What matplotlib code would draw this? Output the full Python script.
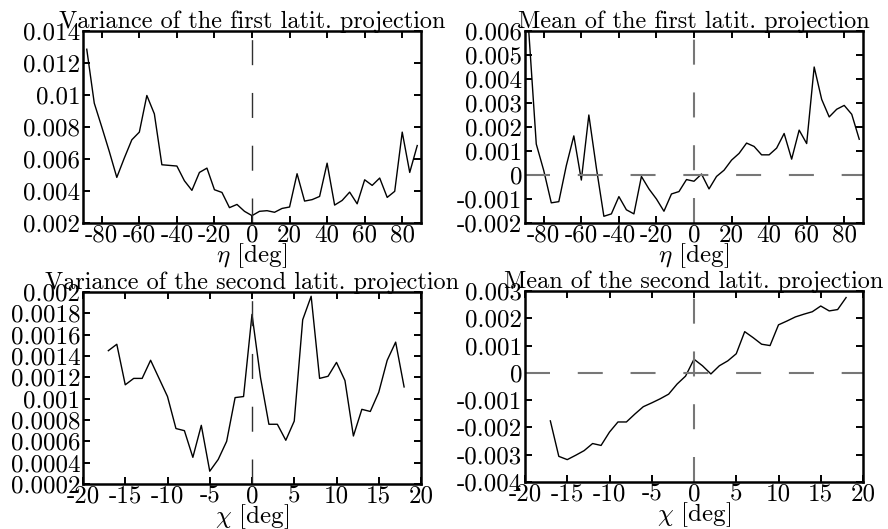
import matplotlib
matplotlib.use("Agg")
import matplotlib.pyplot as plt
from matplotlib.ticker import FuncFormatter, MultipleLocator
import numpy as np

plt.rcParams['font.family'] = ['cmr10', 'DejaVu Serif']
plt.rcParams['mathtext.fontset'] = 'cm'
plt.rcParams['axes.unicode_minus'] = False
plt.rcParams['font.size'] = 18
plt.rcParams['lines.scale_dashes'] = False

# ---- data ----
eta = np.arange(-88, 89, 4)
var_first = [0.01286, 0.00949, 0.0080, 0.00647, 0.00485, 0.00606, 0.0072, 0.00768,
             0.00997, 0.00882, 0.00564, 0.0056, 0.00556, 0.00464, 0.00404, 0.00516,
             0.00543, 0.00408, 0.00391, 0.00296, 0.00316, 0.00273, 0.00246, 0.00273,
             0.00277, 0.00267, 0.00291, 0.0030, 0.00508, 0.00337, 0.00346, 0.00366,
             0.00574, 0.00312, 0.00341, 0.00393, 0.0032, 0.0047, 0.00435, 0.00481,
             0.0036, 0.00398, 0.00768, 0.00516, 0.00684]
mean_first = [0.0060, 0.00129, 0.00018, -0.00116, -0.00111, 0.00039, 0.00163, -0.00021,
              0.0025, 0.0003, -0.00172, -0.00162, -0.0009, -0.00145, -0.00162, -0.00006,
              -0.00058, -0.0010, -0.00151, -0.00079, -0.00069, -0.00019, -0.00026, 0.00004,
              -0.00058, -0.00006, 0.0002, 0.00062, 0.0009, 0.00133, 0.00119, 0.00084,
              0.00084, 0.00112, 0.00173, 0.00066, 0.00187, 0.00131, 0.0045, 0.00315,
              0.00242, 0.00274, 0.0029, 0.00253, 0.00149]

chi = np.arange(-17, 19, 1)
var_second = [0.00145, 0.00151, 0.00113, 0.00119, 0.00119, 0.00136, 0.00119, 0.00102,
              0.00072, 0.0007, 0.00045, 0.00075, 0.00032, 0.00043, 0.0006, 0.00101,
              0.00102, 0.00179, 0.0012, 0.00076, 0.00076, 0.00061, 0.00079, 0.00174,
              0.00196, 0.00119, 0.00121, 0.00134, 0.00117, 0.00065, 0.0009, 0.00088,
              0.00106, 0.00136, 0.00153, 0.00111]
mean_second = [-0.00176, -0.00306, -0.00318, -0.00302, -0.00285, -0.00259, -0.00266, -0.00217,
               -0.0018, -0.0018, -0.00151, -0.00124, -0.0011, -0.00095, -0.00078, -0.00041,
               -0.00012, 0.0005, 0.00026, -0.00004, 0.00026, 0.00044, 0.0007, 0.00151,
               0.00129, 0.00105, 0.0010, 0.00176, 0.0019, 0.00205, 0.00215, 0.00224,
               0.00245, 0.00227, 0.00232, 0.00276]

titles = ["Variance of the first latit. projection", "Mean of the first latit. projection",
          "Variance of the second latit. projection", "Mean of the second latit. projection"]

fig = plt.figure(figsize=(8.88, 5.29), dpi=100)
W, H = 888, 529

def make_ax(x0, x1, y0, y1):
    return fig.add_axes([x0 / W, 1 - y1 / H, (x1 - x0) / W, (y1 - y0) / H])

fmt = FuncFormatter(lambda v, p: "%g" % round(v, 6))
dash = (0, (18, 20))
TITLE_SIZE = 17.5

def style(ax):
    for s in ax.spines.values():
        s.set_linewidth(1.8)
    ax.tick_params(direction='in', length=5, width=1.4, top=True, right=True, pad=2)
    ax.tick_params(axis='x', pad=1)
    ax.yaxis.set_major_formatter(fmt)

# top-left
ax1 = make_ax(83, 421, 31, 223)
ax1.plot(eta, var_first, color='k', lw=1.0)
ax1.plot([0, 0], [0.002, 0.014], color='#303030', lw=1.0, linestyle=dash)
ax1.set_xlim(-90, 90); ax1.set_ylim(0.002, 0.014)
ax1.xaxis.set_major_locator(MultipleLocator(20)); ax1.yaxis.set_major_locator(MultipleLocator(0.002))
ax1.set_xlabel(r"$\eta$ [deg]", labelpad=-4)
ax1.set_title(titles[0], pad=2, fontsize=TITLE_SIZE)
style(ax1)

# top-right
ax2 = make_ax(525, 863, 31, 223)
ax2.plot(eta, mean_first, color='k', lw=1.0)
ax2.plot([0, 0], [-0.002, 0.006], color='#777777', lw=1.5, linestyle=dash)
ax2.plot([-90, 90], [0, 0], color='#777777', lw=1.5, linestyle=dash)
ax2.set_xlim(-90, 90); ax2.set_ylim(-0.002, 0.006)
ax2.xaxis.set_major_locator(MultipleLocator(20)); ax2.yaxis.set_major_locator(MultipleLocator(0.001))
ax2.set_xlabel(r"$\eta$ [deg]", labelpad=-4)
ax2.set_title(titles[1], pad=2, fontsize=TITLE_SIZE)
style(ax2)

# bottom-left
ax3 = make_ax(83, 421, 292, 484)
ax3.plot(chi, var_second, color='k', lw=1.0)
ax3.plot([0, 0], [0.0002, 0.002], color='#303030', lw=1.0, linestyle=dash)
ax3.set_xlim(-20, 20); ax3.set_ylim(0.0002, 0.002)
ax3.xaxis.set_major_locator(MultipleLocator(5)); ax3.yaxis.set_major_locator(MultipleLocator(0.0002))
ax3.set_xlabel(r"$\chi$ [deg]", labelpad=-4)
ax3.set_title(titles[2], pad=2, fontsize=TITLE_SIZE)
style(ax3)

# bottom-right
ax4 = make_ax(525, 863, 291, 482)
ax4.plot(chi, mean_second, color='k', lw=1.0)
ax4.plot([0, 0], [-0.004, 0.003], color='#777777', lw=1.5, linestyle=dash)
ax4.plot([-20, 20], [0, 0], color='#777777', lw=1.5, linestyle=dash)
ax4.set_xlim(-20, 20); ax4.set_ylim(-0.004, 0.003)
ax4.xaxis.set_major_locator(MultipleLocator(5)); ax4.yaxis.set_major_locator(MultipleLocator(0.001))
ax4.set_xlabel(r"$\chi$ [deg]", labelpad=-4)
ax4.set_title(titles[3], pad=2, fontsize=TITLE_SIZE)
style(ax4)

fig.savefig("out.png", dpi=100)
